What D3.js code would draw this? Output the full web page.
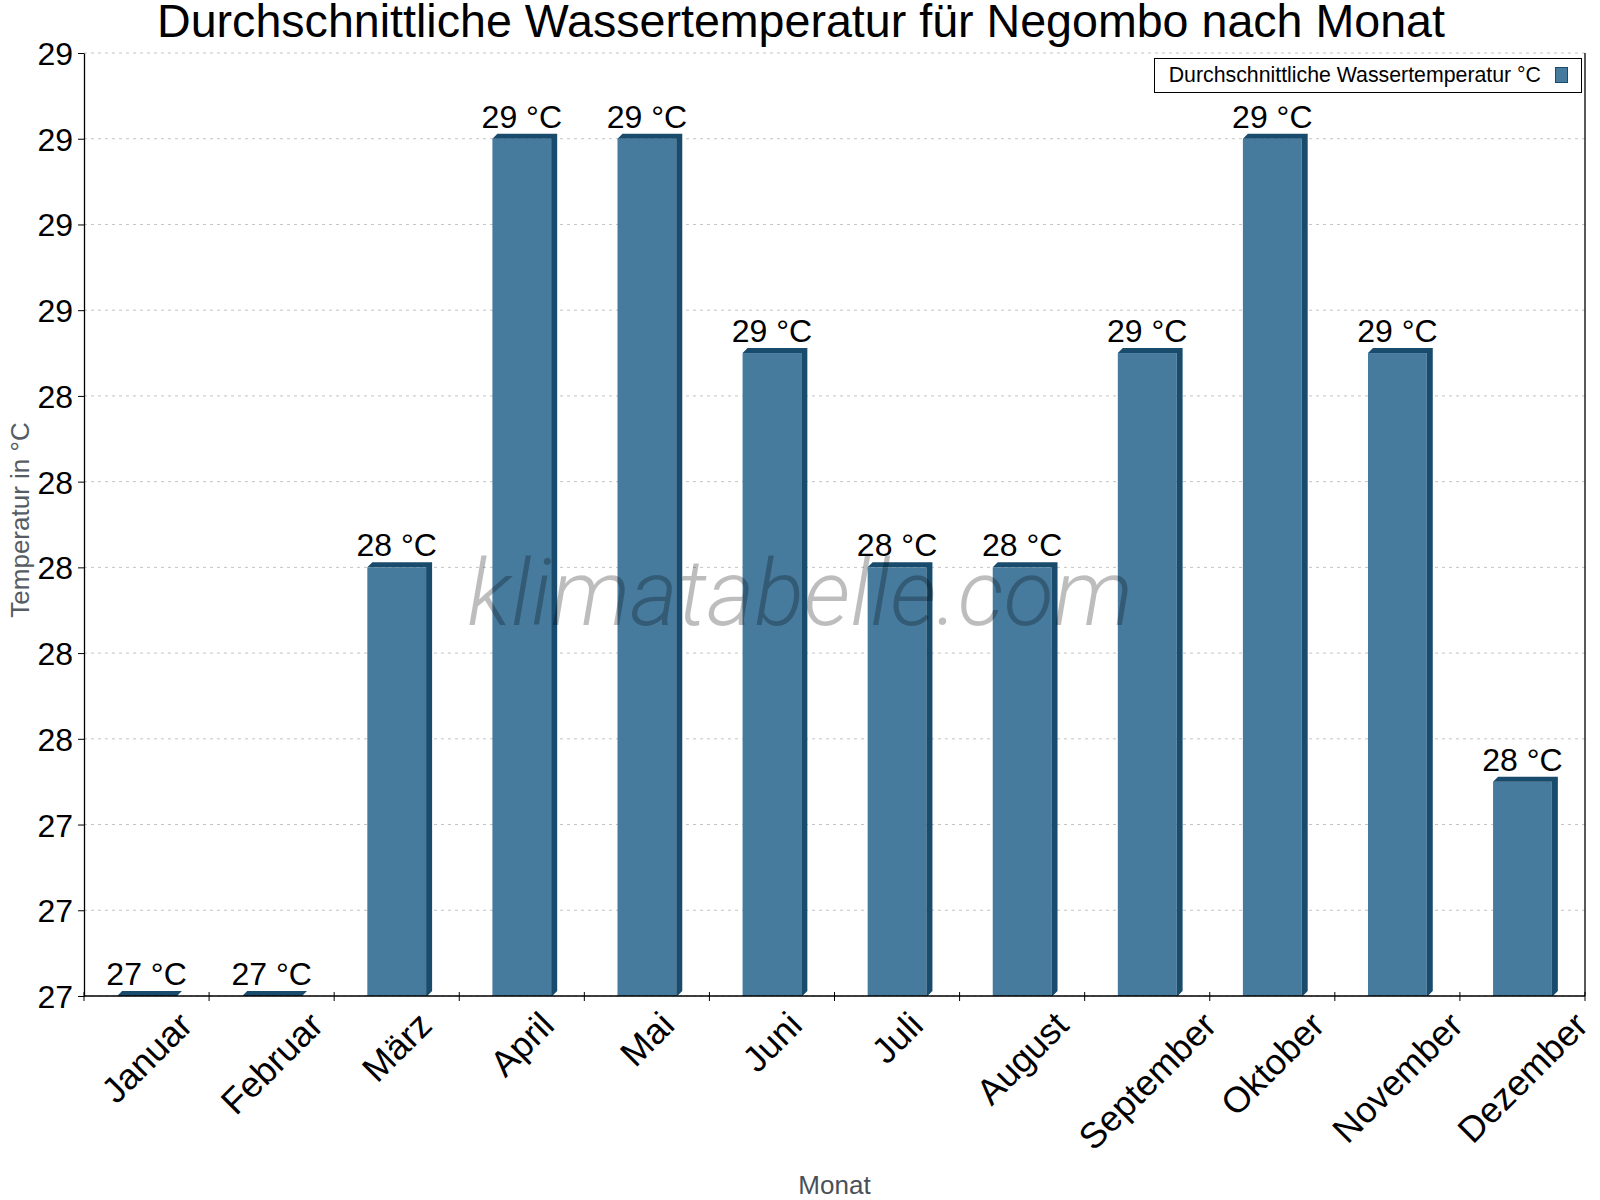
<!DOCTYPE html>
<html>
<head>
<meta charset="utf-8">
<script src="https://cdn.jsdelivr.net/npm/d3@7"></script>
<style>
  body { margin: 0; background: #fff; }
  svg { display: block; font-family: Arial, "Liberation Sans", sans-serif; }
</style>
</head>
<body>
<div id="chart"></div>
<script>
const months = ['Januar', 'Februar', 'März', 'April', 'Mai', 'Juni', 'Juli', 'August', 'September', 'Oktober', 'November', 'Dezember'];
const waterTemp = [27, 27, 28, 29, 29, 28.5, 28, 28, 28.5, 29, 28.5, 27.5];
const yTicks = [27, 27.2, 27.4, 27.6, 27.8, 28, 28.2, 28.4, 28.6, 28.8, 29, 29.2];

const width = 1600;
const height = 1200;
const margin = { top: 53, right: 15, bottom: 204, left: 84 };
const depth = 5;
const front = '#467b9e';
const dark = '#194b6d';

const svg = d3.select('#chart').append('svg')
  .attr('width', width)
  .attr('height', height);

const iw = width - margin.left - margin.right;
const ih = height - margin.top - margin.bottom;

const x = d3.scaleBand().domain(months).range([0, iw]);
const y = d3.scaleLinear().domain([27, 29.2]).range([ih, 0]);

const g = svg.append('g')
  .attr('transform', 'translate(' + margin.left + ',' + margin.top + ')');

// gridlines
g.append('g')
  .selectAll('line')
  .data(yTicks)
  .enter().append('line')
  .attr('x1', 0).attr('x2', iw)
  .attr('y1', d => y(d)).attr('y2', d => y(d))
  .attr('stroke', '#c4c4c4')
  .attr('stroke-dasharray', '3,4');

// bars (flat 3d look)
const barW = x.bandwidth() * 0.47;
const bars = g.selectAll('.bar').data(waterTemp).enter().append('g');

bars.append('rect')
  .attr('x', (d, i) => x(months[i]) + (x.bandwidth() - barW) / 2)
  .attr('y', d => y(d))
  .attr('width', barW)
  .attr('height', d => y(27) - y(d))
  .attr('fill', front);

bars.append('path')
  .attr('fill', dark)
  .attr('d', (d, i) => {
    const x0 = x(months[i]) + (x.bandwidth() - barW) / 2;
    const x1 = x0 + barW;
    const yt = y(d);
    const yb = y(27);
    // top strip + right side
    return 'M' + x0 + ',' + yt +
      'L' + (x0 + depth) + ',' + (yt - depth) +
      'L' + (x1 + depth + 1) + ',' + (yt - depth) +
      'L' + (x1 + depth + 1) + ',' + (yb - depth) +
      'L' + (x1 + 1) + ',' + yb +
      'L' + x1 + ',' + yb +
      'L' + x1 + ',' + yt + 'Z';
  });

// value labels
bars.append('text')
  .attr('x', (d, i) => x(months[i]) + x.bandwidth() / 2)
  .attr('y', d => y(d) - 11)
  .attr('text-anchor', 'middle')
  .attr('font-size', 32)
  .attr('fill', '#000')
  .text(d => Math.round(d) + ' °C');

// axes
const yAxis = g.append('g')
  .call(d3.axisLeft(y).tickValues(yTicks).tickFormat(d3.format('.0f')).tickSize(6).tickSizeOuter(0));
yAxis.select('.domain').attr('stroke', '#000').attr('stroke-width', 1.3);
yAxis.selectAll('.tick line').attr('stroke', '#000');
yAxis.selectAll('.tick text')
  .attr('font-size', 32)
  .attr('font-family', 'Arial, "Liberation Sans", sans-serif')
  .attr('fill', '#000')
  .attr('x', -11)
  .attr('dy', '0.36em');

const xAxis = g.append('g')
  .attr('transform', 'translate(0,' + ih + ')');
xAxis.append('line')
  .attr('x1', 0).attr('x2', iw)
  .attr('stroke', '#000').attr('stroke-width', 1.3);
xAxis.selectAll('.xtick')
  .data(d3.range(months.length + 1))
  .enter().append('line')
  .attr('x1', i => i * x.step()).attr('x2', i => i * x.step())
  .attr('y1', -4).attr('y2', 5)
  .attr('stroke', '#000');

// right border
g.append('line')
  .attr('x1', iw).attr('x2', iw)
  .attr('y1', 0).attr('y2', ih)
  .attr('stroke', '#000').attr('stroke-width', 1.3);

// rotated month labels, box centred under the band
const labSize = 36;
const labTop = 13;
xAxis.selectAll('.mlabel')
  .data(months)
  .enter().append('text')
  .attr('font-size', labSize)
  .attr('text-anchor', 'middle')
  .attr('fill', '#000')
  .text(d => d)
  .each(function (d) {
    const w = this.getComputedTextLength();
    const cy = labTop + (w + labSize * 0.75) * Math.SQRT1_2 / 2;
    const cx = x(d) + x.bandwidth() / 2;
    d3.select(this)
      .attr('transform', 'translate(' + cx + ',' + cy + ') rotate(-45)')
      .attr('dy', '0.35em');
  });

// axis titles
svg.append('text')
  .attr('x', margin.left + iw / 2)
  .attr('y', 1194)
  .attr('text-anchor', 'middle')
  .attr('font-size', 26)
  .attr('fill', '#4a5058')
  .text('Monat');

svg.append('text')
  .attr('transform', 'translate(29,520) rotate(-90)')
  .attr('text-anchor', 'middle')
  .attr('font-size', 26)
  .attr('fill', '#555c63')
  .text('Temperatur in °C');

// title
svg.append('text')
  .attr('x', 801)
  .attr('y', 37)
  .attr('text-anchor', 'middle')
  .attr('font-size', 46.6)
  .attr('fill', '#000')
  .text('Durchschnittliche Wassertemperatur für Negombo nach Monat');

// legend
const legend = svg.append('g');
legend.append('rect')
  .attr('x', 1154.5).attr('y', 58.5)
  .attr('width', 427).attr('height', 34)
  .attr('fill', '#fff').attr('stroke', '#000');
legend.append('text')
  .attr('x', 1541).attr('y', 82)
  .attr('text-anchor', 'end')
  .attr('font-size', 21.3)
  .attr('fill', '#000')
  .text('Durchschnittliche Wassertemperatur °C');
legend.append('rect')
  .attr('x', 1555.5).attr('y', 67.5)
  .attr('width', 12).attr('height', 15)
  .attr('fill', front).attr('stroke', dark);

// watermark
svg.append('text')
  .attr('x', 800)
  .attr('y', 625)
  .attr('text-anchor', 'middle')
  .attr('font-family', 'Roboto, sans-serif')
  .attr('font-weight', 300)
  .attr('font-style', 'italic')
  .attr('font-size', 92)
  .attr('fill', '#000')
  .attr('fill-opacity', 0.26)
  .text('klimatabelle.com');
</script>
</body>
</html>
